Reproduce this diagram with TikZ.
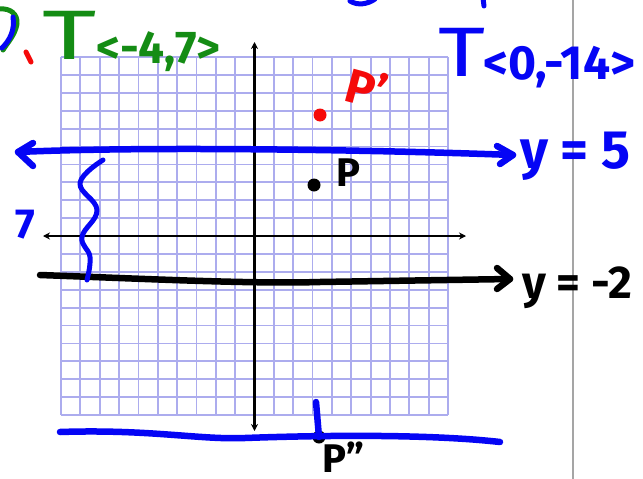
\documentclass[tikz,border=0pt]{standalone}
\usepackage{fontspec}
\setmainfont{Fira Sans}
\usetikzlibrary{arrows.meta}
\definecolor{gridc}{RGB}{172,172,238}
\definecolor{penblue}{RGB}{5,5,245}
\definecolor{pengreen}{RGB}{20,140,20}
\definecolor{penred}{RGB}{245,10,10}
\definecolor{sepgray}{RGB}{165,165,165}
\begin{document}
\begin{tikzpicture}[x=1pt,y=-1pt,
  gridline/.style={draw=gridc, line width=1.8pt},
  axisline/.style={draw=black, line width=2.2pt, {Stealth[length=7pt,width=7pt]}-{Stealth[length=7pt,width=7pt]}},
  pen/.style={line width=6.5pt, line cap=round, line join=round},
  thinpen/.style={line width=5pt, line cap=round, line join=round},
  hand/.style={inner sep=0pt, font=\bfseries\fontsize{#1}{#1}\selectfont},
  handlight/.style={inner sep=0pt, font=\fontsize{#1}{#1}\selectfont},
  dot/.style={circle, inner sep=0pt, minimum size=13pt}
]
\useasboundingbox (0,0) rectangle (643,479);
\fill[white] (0,0) rectangle (643,479);
% grid
\foreach \i in {0,...,20} {
  \draw[gridline] ({61+\i*19.35},57) -- ({61+\i*19.35},415);
  \draw[gridline] (61,{57+\i*17.9}) -- (448,{57+\i*17.9});
}
% separator
\coordinate (septop) at (573,0);
\coordinate (sepbot) at (573,479);
\draw[sepgray, line width=2.5pt] (septop) -- (sepbot);
% axes
\coordinate (yt) at (254.5,42);
\coordinate (yb) at (254.5,431);
\coordinate (xl) at (43,236);
\coordinate (xr) at (466,236);
\draw[axisline] (yb) -- (yt);
\draw[axisline] (xl) -- (xr);
% y = 5 line
\coordinate (a5l) at (18,152);
\coordinate (a5r) at (513,155);
\draw[penblue, pen] (a5l) .. controls (150,146) and (380,150) .. (a5r);
\draw[penblue, pen] (33,143) -- (a5l) -- (33,166);
\draw[penblue, pen] (497,146) -- (a5r) -- (500,164);
% y = -2 line
\coordinate (a2l) at (40,275);
\coordinate (a2r) at (510,279);
\draw[black, pen] (a2l) .. controls (150,279) and (250,284) .. (320,282) -- (a2r);
\draw[black, pen] (497,268) -- (a2r) -- (497,289);
% brace
\draw[penblue, thinpen] plot[smooth, tension=0.7] coordinates {(103,160) (80,183) (97,210) (82,237) (90,257) (87,280)};
\node[hand=42, text=penblue, anchor=base] (seven) at (25,238) {7};
% points
\node[dot, fill=black] (P) at (314,185) {};
\node[hand=40, anchor=base west] (Plab) at (336,186) {P};
\node[dot, fill=penred] (P1) at (320,115) {};
\node[hand=48, text=penred, anchor=base west, rotate=-15] (P1lab) at (342,100) {P'};
\node[dot, fill=black] (P2) at (319,437) {};
% bottom blue line
\coordinate (bl) at (60,432);
\coordinate (br) at (500,442);
\draw[penblue, pen] (bl) .. controls (150,429) and (200,440) .. (245,438) .. controls (300,436) and (420,433) .. (br);
\coordinate (tick) at (316,402);
\draw[penblue, pen] (tick) -- (P2.center);
\node[hand=40, anchor=base west] (P2lab) at (322,472) {P''};
% translations
\node[handlight=70, text=pengreen, anchor=base west] (Tg) at (42,59) {\scalebox{1.5}[1]{T}};
\node[hand=46, text=pengreen, anchor=base west] (Tgs) at (96,63) {<-4,7>};
\node[handlight=70, text=penblue, anchor=base west] (Tb) at (438,76) {\scalebox{1.3}[1]{T}};
\node[hand=48, text=penblue, anchor=base west] (Tbs) at (483,79) {<0,-14>};
% line labels
\node[hand=54, text=penblue, anchor=base west] (y5) at (520,168) {y = 5};
\node[hand=46, anchor=base west] (y2) at (522,298) {y = -2};
% partial strokes cut by the frame
\draw[pengreen, thinpen] (0,9) .. controls (10,8) and (18,14) .. (17,24) .. controls (15,35) and (8,42) .. (3,50);
\draw[penblue, thinpen] (13,17) .. controls (15,30) and (10,40) .. (2,48);
\draw[penred, thinpen] (26,52) -- (31,62);
\draw[penblue, thinpen] (350,1) .. controls (358,6) and (368,4) .. (375,-1);
\draw[penblue, thinpen] (483,-2) -- (484,6);
\end{tikzpicture}
\end{document}
